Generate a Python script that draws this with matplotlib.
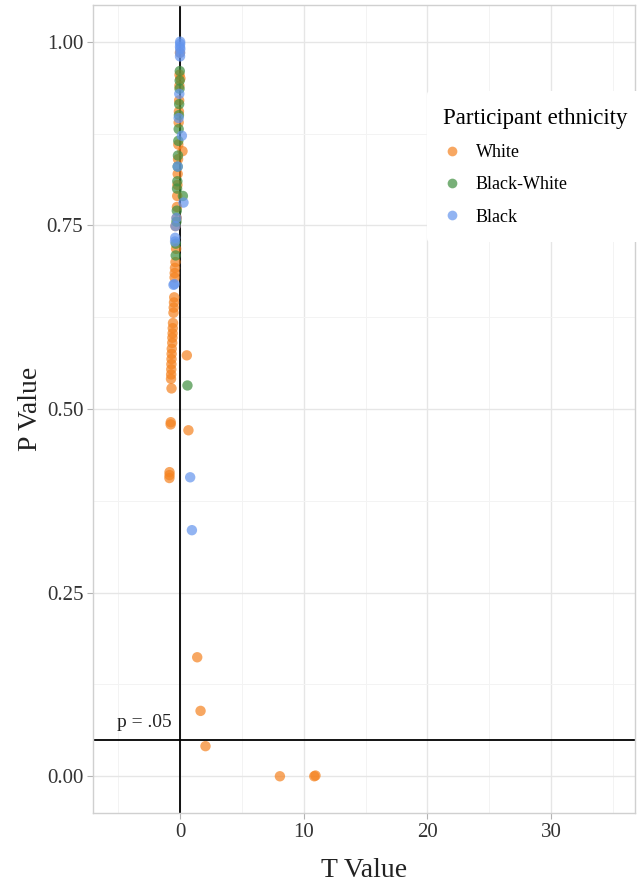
import numpy as np
import matplotlib
matplotlib.use('Agg')
import matplotlib.pyplot as plt
from matplotlib.lines import Line2D

plt.rcParams['font.family'] = ['Liberation Serif', 'DejaVu Serif']

# t statistic and p value per comparison, split by participant group
white_t = [-0.02, -0.05, 0.02, -0.06, -0.08, -0.10, -0.12, 0.19, -0.15, -0.17,
           -0.20, -0.22, -0.24, -0.26, -0.28, -0.33, -0.38, -0.38, -0.42, -0.44,
           -0.45, -0.48, -0.50, -0.52, -0.54, -0.58, -0.60, -0.61, -0.63, -0.64,
           -0.68, -0.69, -0.70, -0.71, -0.72, -0.73, -0.74, -0.70, 0.54, -0.76,
           -0.77, 0.67, -0.86, -0.86, -0.87, 1.38, 1.65, 2.05, 8.07, 10.85, 10.95]
white_p = [0.985, 0.955, 0.950, 0.940, 0.920, 0.905, 0.890, 0.851, 0.860, 0.840,
           0.820, 0.805, 0.790, 0.775, 0.760, 0.718, 0.749, 0.700, 0.692, 0.685,
           0.679, 0.652, 0.645, 0.638, 0.631, 0.617, 0.610, 0.603, 0.597, 0.590,
           0.582, 0.575, 0.568, 0.561, 0.554, 0.547, 0.541, 0.528, 0.573, 0.482,
           0.479, 0.471, 0.414, 0.410, 0.406, 0.162, 0.089, 0.041, 0.000, 0.000, 0.001]

bw_t = [-0.03, -0.04, -0.05, -0.08, -0.10, -0.12, -0.15, -0.18, -0.20, -0.23,
        -0.25, 0.22, -0.27, -0.30, -0.35, -0.36, 0.59]
bw_p = [0.960, 0.947, 0.936, 0.915, 0.900, 0.881, 0.865, 0.845, 0.830, 0.810,
        0.800, 0.790, 0.770, 0.755, 0.725, 0.709, 0.532]

black_t = [0.00, 0.00, -0.01, 0.01, 0.00, -0.01, -0.07, -0.12, 0.14, -0.20,
           0.27, -0.30, -0.38, -0.40, -0.41, -0.46, -0.54, 0.95, 0.81]
black_p = [1.000, 0.997, 0.993, 0.990, 0.985, 0.980, 0.929, 0.896, 0.872, 0.830,
           0.781, 0.760, 0.749, 0.733, 0.728, 0.670, 0.669, 0.335, 0.407]

groups = ['White', 'Black-White', 'Black']
colors = ['#F5821F', '#3F8F3F', '#6495ED']
alpha = 0.7

fig = plt.figure(figsize=(6.38, 8.86), dpi=100)
ax = fig.add_axes([0.1458, 0.0824, 0.8495, 0.912])

for t, p, c in zip([white_t, bw_t, black_t], [white_p, bw_p, black_p], colors):
    ax.scatter(t, p, s=56, color=c, alpha=alpha, edgecolors='none', zorder=3)

ax.axhline(0.05, color='black', lw=1.3, zorder=2)
ax.axvline(0, color='black', lw=1.3, zorder=2)
ax.text(-2.9, 0.073, 'p = .05', ha='center', va='center', fontsize=14, color='#222222')

ax.set_xlim(-7.05, 36.8)
ax.set_ylim(-0.05, 1.05)
ax.set_xticks([0, 10, 20, 30])
ax.set_xticks([-5, 5, 15, 25, 35], minor=True)
ax.set_yticks([0, 0.25, 0.5, 0.75, 1.0])
ax.set_yticklabels(['0.00', '0.25', '0.50', '0.75', '1.00'])
ax.set_yticks([0.125, 0.375, 0.625, 0.875], minor=True)
ax.grid(which='major', color='#E6E6E6', lw=1.0, zorder=0)
ax.grid(which='minor', color='#F3F3F3', lw=0.7, zorder=0)
ax.set_axisbelow(True)
ax.tick_params(which='major', length=4, color='#B3B3B3', labelsize=15, labelcolor='#333333', pad=3)
ax.tick_params(which='minor', length=0)
for s in ax.spines.values():
    s.set_color('#D0D0D0')
    s.set_linewidth(1.0)

ax.set_xlabel('T Value', fontsize=20, labelpad=12, color='#222222')
ax.set_ylabel('P Value', fontsize=20, labelpad=3, color='#222222')

handles = [Line2D([], [], marker='o', ls='', markersize=7, markerfacecolor=c,
                  markeredgecolor='none', alpha=alpha) for c in colors]
leg = ax.legend(handles, groups, title='Participant ethnicity', loc='upper left',
                bbox_to_anchor=(0.616, 0.893), frameon=True, fontsize=13,
                title_fontsize=16.5, handletextpad=0.8, labelspacing=0.85,
                borderpad=0.9, handlelength=1.0, borderaxespad=0)
leg.get_frame().set_edgecolor('none')
leg.get_frame().set_facecolor('white')
leg.get_frame().set_alpha(1.0)
leg._legend_box.align = 'left'

fig.savefig('out.png', dpi=100)
